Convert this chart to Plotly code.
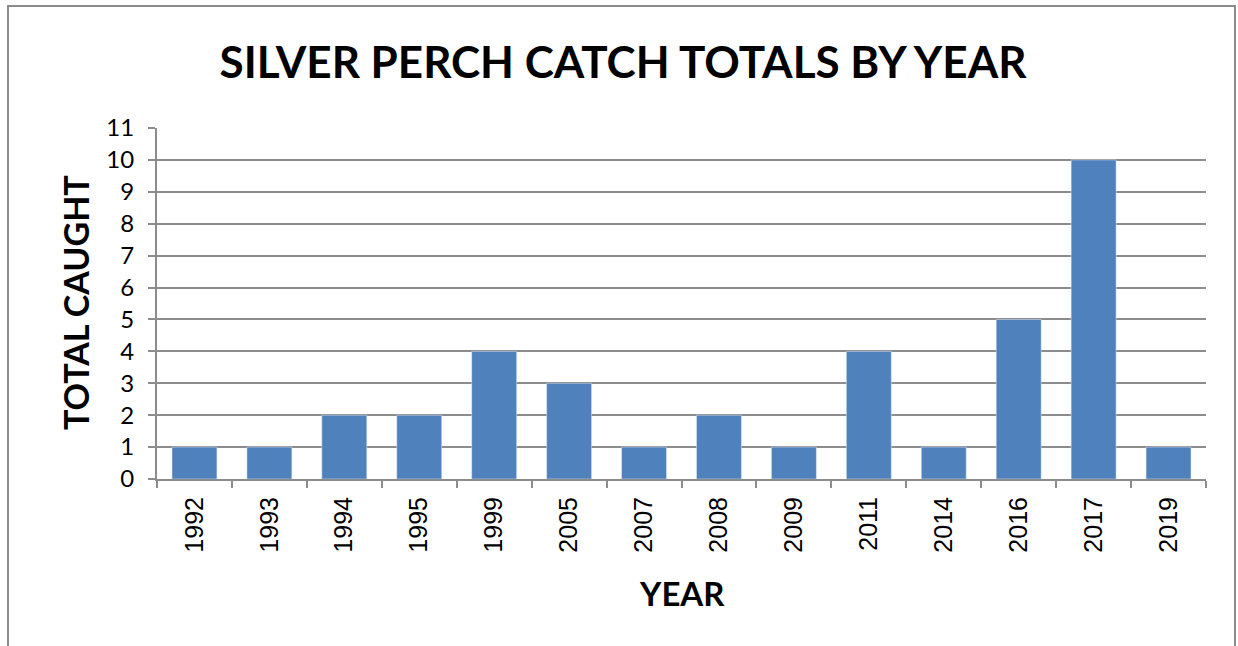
import plotly.graph_objects as go

years = ["1992", "1993", "1994", "1995", "1999", "2005", "2007", "2008", "2009", "2011", "2014", "2016", "2017", "2019"]
totals = [1, 1, 2, 2, 4, 3, 1, 2, 1, 4, 1, 5, 10, 1]
y_ticks = list(range(0, 12))

W, H = 1238, 646
L, R, T, B = 157, 32, 128, 167
pw, ph = W - L - R, H - T - B

def px_x(x):
    return (x - L) / pw

def px_y(y):
    return (H - B - y) / ph

fig = go.Figure(go.Bar(x=years, y=totals, marker_color="#4F81BD", width=0.6))

fig.update_layout(
    width=W, height=H,
    margin=dict(l=L, r=R, t=T, b=B),
    paper_bgcolor="white", plot_bgcolor="white",
    showlegend=False,
    title=dict(text="<b>SILVER PERCH CATCH TOTALS BY YEAR</b>", x=px_x(623), xref="paper", xanchor="center",
               y=1 - 63 / H, yref="container", yanchor="middle",
               font=dict(family="Lato", size=44, color="black")),
    xaxis=dict(type="category", tickangle=-90, showgrid=False, showline=True, linecolor="#8C8C8C", linewidth=2,
               ticks="outside", ticklen=7, tickcolor="#8C8C8C", tickwidth=2, tickson="boundaries",
               ticklabelstandoff=6,
               tickfont=dict(family="Liberation Sans", size=25, color="black")),
    yaxis=dict(range=[0, 11], tickvals=y_ticks, showgrid=True, gridcolor="#8C8C8C", gridwidth=2,
               showline=True, linecolor="#8C8C8C", linewidth=2, zeroline=False,
               ticks="outside", ticklen=7, tickcolor="#8C8C8C", tickwidth=2,
               ticklabelstandoff=9,
               tickfont=dict(family="Lato", size=24, color="black")),
    annotations=[
        dict(text="<b>TOTAL CAUGHT</b>", textangle=-90, xref="paper", yref="paper",
             x=px_x(75), y=px_y(303), xanchor="center", yanchor="middle", showarrow=False,
             font=dict(family="Lato", size=34, color="black")),
        dict(text="<b>YEAR</b>", xref="paper", yref="paper",
             x=px_x(682), y=px_y(593), xanchor="center", yanchor="middle", showarrow=False,
             font=dict(family="Lato", size=33, color="black")),
    ],
    shapes=[dict(type="rect", xref="paper", yref="paper", x0=px_x(8), x1=px_x(1235), y0=px_y(660), y1=px_y(6),
                 line=dict(color="#8C8C8C", width=2), layer="below")],
)

fig.write_html("out.html", config={"displayModeBar": False},
               post_script="document.body.style.margin='0';document.body.style.overflow='hidden';")
